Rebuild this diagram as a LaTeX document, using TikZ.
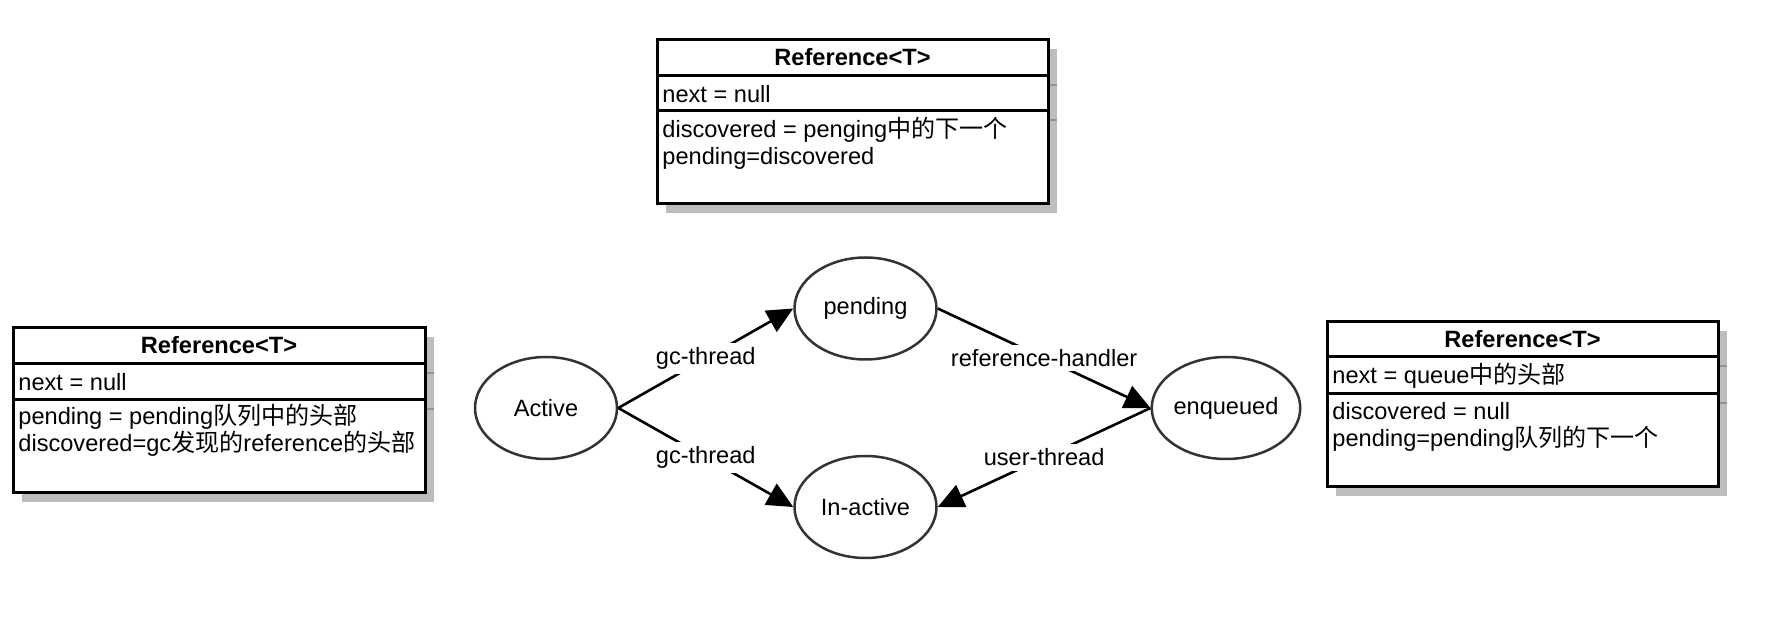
\documentclass[tikz,border=0pt]{standalone}
\usepackage{fontspec}
\setmainfont{Liberation Sans}
\newfontfamily\cjk[Scale=1.02]{Noto Sans CJK SC}
\usetikzlibrary{shapes.geometric,arrows.meta}

\tikzset{
  boxline/.style={line width=1.5pt, draw=black, fill=white},
  divline/.style={line width=1.5pt, draw=black},
  boxshadow/.style={fill=black!26, draw=none},
  shadowdiv/.style={draw=black!42, line width=1.2pt},
  titletext/.style={font=\bfseries\fontsize{11.8}{14}\selectfont, anchor=base, inner sep=0pt},
  fieldtext/.style={font=\fontsize{11.8}{14}\selectfont, anchor=base west, inner sep=0pt},
  statenode/.style={ellipse, draw=black!80, line width=1.25pt, minimum width=71pt, minimum height=51pt, inner sep=0pt, font=\fontsize{11.8}{14}\selectfont},
  trans/.style={line width=1.3pt, -{Triangle[length=13pt,width=12pt]}},
  lbl/.style={fill=white, inner sep=2.2pt, font=\fontsize{11.8}{14}\selectfont},
}

% #1 left, #2 top, #3 right, #4 bottom, #5 divider 1, #6 divider 2
\newcommand\drawrefbox[6]{%
  \fill[boxshadow] (#1+9,#2+9) rectangle (#3+9,#4+9);
  \draw[shadowdiv] (#3,#5+9) -- (#3+9,#5+9);
  \draw[shadowdiv] (#3,#6+9) -- (#3+9,#6+9);
  \draw[boxline] (#1,#2) rectangle (#3,#4);
  \draw[divline] (#1,#5) -- (#3,#5);
  \draw[divline] (#1,#6) -- (#3,#6);
}

\begin{document}
\begin{tikzpicture}[x=0.5pt,y=-0.5pt]
\useasboundingbox (0,0) rectangle (1784,640);
\fill[white] (0,0) rectangle (1784,640);

% top box
\drawrefbox{657}{40}{1048}{204}{76}{111}
\node[titletext] (toptitle) at (852.5,66) {Reference<T>};
\node[fieldtext] (topnext) at (662,103) {next = null};
\node[fieldtext] (topdisc) at (662,138) {discovered = penging{\cjk 中的下一个}};
\node[fieldtext] (toppend) at (662,165) {pending=discovered};

% left box
\drawrefbox{13}{328}{425}{493}{364}{400}
\node[titletext] (lefttitle) at (219,354) {Reference<T>};
\node[fieldtext] (leftnext) at (18,391) {next = null};
\node[fieldtext] (leftpend) at (18,425) {pending = pending{\cjk 队列中的头部}};
\node[fieldtext] (leftdisc) at (18,452) {discovered=gc{\cjk 发现的}reference{\cjk 的头部}};

% right box
\drawrefbox{1327}{322}{1718}{487}{357}{394}
\node[titletext] (righttitle) at (1522.5,348) {Reference<T>};
\node[fieldtext] (rightnext) at (1332,384) {next = queue{\cjk 中的头部}};
\node[fieldtext] (rightdisc) at (1332,420) {discovered = null};
\node[fieldtext] (rightpend) at (1332,447) {pending=pending{\cjk 队列的下一个}};

% states
\node[statenode] (active) at (546,408) {Active};
\node[statenode] (pending) at (865.5,308.5) {pending};
\node[statenode] (inactive) at (865.5,507) {In-active};
\node[statenode] (enqueued) at (1226,408) {enqueued};

% transitions
\draw[trans] (active.east) -- node[lbl] (l1) {gc-thread} (pending.west);
\draw[trans] (active.east) -- node[lbl] (l2) {gc-thread} (inactive.west);
\draw[trans] (pending.east) -- node[lbl] (l3) {reference-handler} (enqueued.west);
\draw[trans] (enqueued.west) -- node[lbl] (l4) {user-thread} (inactive.east);
\end{tikzpicture}
\end{document}
